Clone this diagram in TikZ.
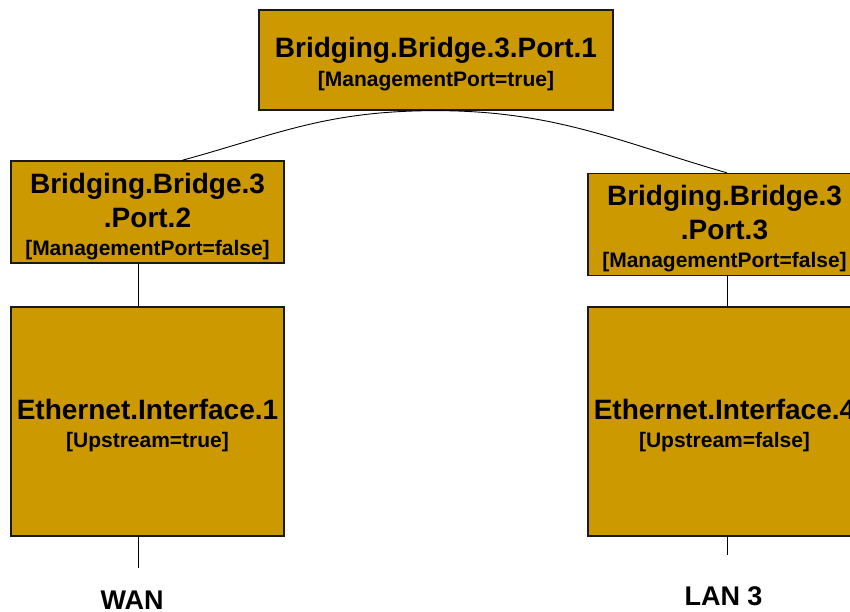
\documentclass[tikz,border=0pt]{standalone}
\usepackage{fontspec}
\setmainfont{Liberation Sans}
\definecolor{boxfill}{HTML}{CC9900}
\tikzset{
  objbox/.style={rectangle, draw=black!90, line width=1.3pt, fill=boxfill, align=center,
    inner sep=0pt, font=\bfseries\fontsize{28}{34}\selectfont},
  portbox/.style={objbox, minimum width=273pt, minimum height=102pt},
  ifbox/.style={objbox, minimum width=273pt, minimum height=229pt},
  lanlabel/.style={font=\bfseries\fontsize{27}{30}\selectfont, inner sep=0pt}
}
\newcommand{\attr}[1]{{\fontsize{21}{25}\selectfont #1}}
\newcommand{\topstrut}{\rule{0pt}{29pt}}

\begin{document}
\begin{tikzpicture}[x=1pt, y=-1pt, line width=0.9pt]
        \useasboundingbox (0,0) rectangle (850,611);

        \node[objbox, minimum width=354pt, minimum height=100pt] (port1) at (436,60) {\topstrut Bridging.Bridge.3.Port.1\\[-5pt]\attr{[ManagementPort=true]}};
        \node[portbox] (port2) at (147.5,212) {\topstrut Bridging.Bridge.3\\.Port.2\\[-6pt]\attr{[ManagementPort=false]}};
        \node[portbox] (port3) at (724.5,224.5) {\topstrut Bridging.Bridge.3\\.Port.3\\[-6pt]\attr{[ManagementPort=false]}};
        \node[ifbox] (eth1) at (147.5,421.5) {\topstrut Ethernet.Interface.1\\[-6pt]\attr{[Upstream=true]}};
        \node[ifbox] (eth4) at (724.5,421.5) {\topstrut Ethernet.Interface.4\\[-6pt]\attr{[Upstream=false]}};
        \node[lanlabel] (wan) at (132,600) {WAN};
        \node[lanlabel] (lan3) at (723.5,596) {LAN 3};
        \coordinate (wanend) at (138,568);
        \coordinate (lan3end) at (727,555);


        \draw (port1.south) .. controls +(-110,0) and +(95,-26) .. ([xshift=34.5pt]port2.north);
        \draw (port1.south) .. controls +(120,0) and +(-105,-30) .. ([xshift=2.5pt]port3.north);
        \draw ([xshift=-9.5pt]port2.south) -- ([xshift=-9.5pt]eth1.north);
        \draw ([xshift=2.5pt]port3.south) -- ([xshift=2.5pt]eth4.north);
        \draw ([xshift=-9.5pt]eth1.south) -- (wanend);
        \draw ([xshift=2.5pt]eth4.south) -- (lan3end);
      \end{tikzpicture}
\end{document}
